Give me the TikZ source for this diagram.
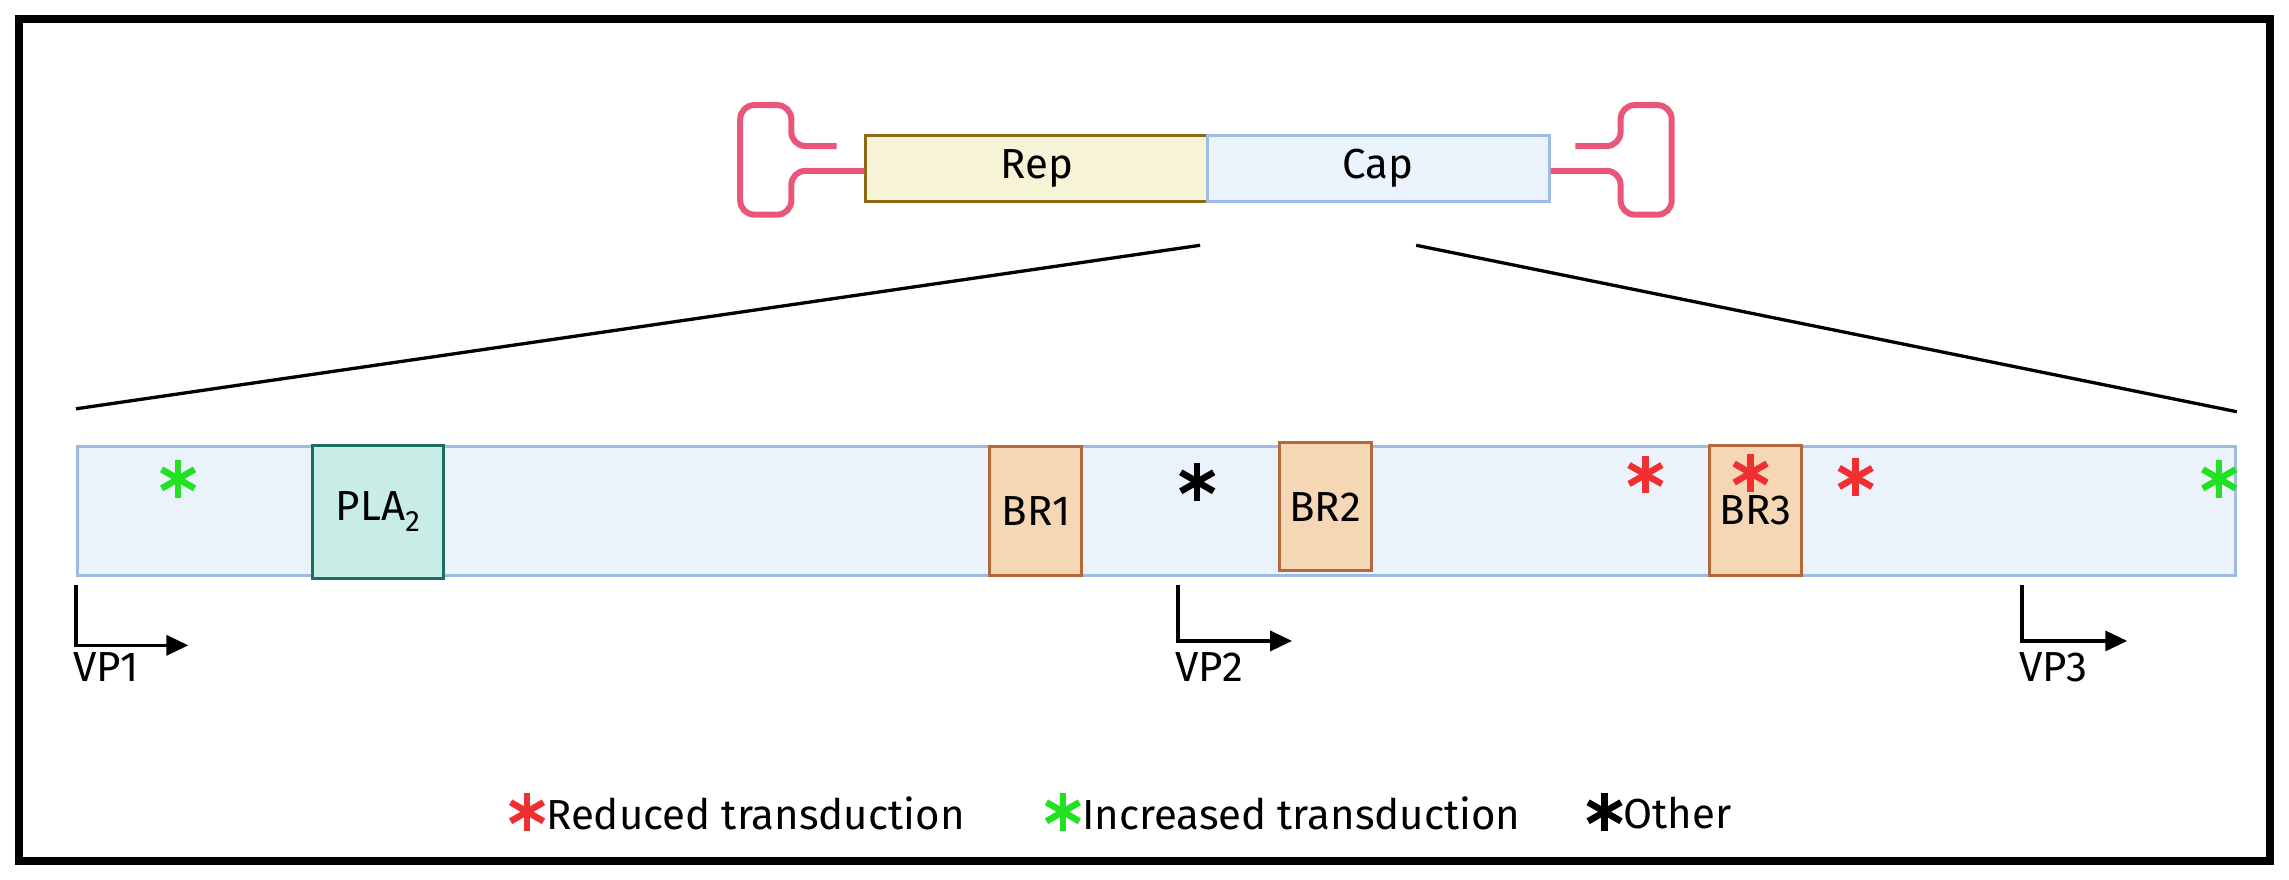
\documentclass[tikz,border=0pt]{standalone}
\usepackage{fontspec}
\setmainfont{Fira Sans}
\usetikzlibrary{arrows.meta}
\definecolor{itr}{HTML}{E8567A}
\definecolor{band}{HTML}{EAF2FB}
\definecolor{bandl}{HTML}{9DBBE3}
\definecolor{repf}{HTML}{F6F3D6}
\definecolor{repl}{HTML}{8C6A14}
\definecolor{plaf}{HTML}{C8EDE6}
\definecolor{plal}{HTML}{1E6E60}
\definecolor{brf}{HTML}{F6D7B5}
\definecolor{brl}{HTML}{B5693A}
\definecolor{gr}{HTML}{22E022}
\definecolor{rd}{HTML}{F03030}
\begin{document}
\begin{tikzpicture}[x=1.46pt,y=-1.46pt,
  txt/.style={font=\fontsize{42}{48}\selectfont},
  seg/.style={draw, line width=3pt, inner sep=0pt, anchor=north west, txt},
  br/.style={seg, fill=brf, draw=brl},
  itrs/.style={draw=itr, line width=6pt, rounded corners=14pt},
  star/.pic={\foreach \a in {90,30,-30}{\draw[line width=6.5pt,#1] (\a:13)--(\a+180:13);}},
  vp/.style={line width=3.5pt,-{Triangle[length=22pt,width=20pt]}},
  lbl/.style={txt, anchor=north west, inner sep=0pt}]
\useasboundingbox (0,0) rectangle (1567.8,602.7);
\draw[line width=8pt] (13,13) rectangle (1555,590);
% top construct
\node[seg, fill=repf, draw=repl, minimum width=234*1.46pt, minimum height=45*1.46pt] (rep) at (592,92) {Rep};
\node[seg, fill=band, draw=bandl, minimum width=234*1.46pt, minimum height=45*1.46pt] (cap) at (826,92) {Cap};
\draw[itrs] (573,100) -- (542,100) -- (542,72) -- (507,72) -- (507,147) -- (542,147) -- (542,117) -- (rep.west|-0,117);
\draw[itrs] (1079,100) -- (1110,100) -- (1110,72) -- (1145,72) -- (1145,147) -- (1110,147) -- (1110,117) -- (cap.east|-0,117);
% band
\node[seg, fill=band, draw=bandl, minimum width=1478*1.46pt, minimum height=88*1.46pt] (bd) at (52,305) {};
\coordinate (z1) at (822,168); \coordinate (z2) at (970,168);
\draw[line width=3.3pt] (z1) -- (bd.north west|-0,280);
\draw[line width=3.3pt] (z2) -- (bd.north east|-0,282);
\node[seg, fill=plaf, draw=plal, minimum width=90*1.46pt, minimum height=91*1.46pt] (pla) at (213,304) {PLA\textsubscript{2}};
\node[br, minimum width=63*1.46pt, minimum height=88*1.46pt] (br1) at (677,305) {BR1};
\node[br, minimum width=63*1.46pt, minimum height=88*1.46pt] (br2) at (875,302) {BR2};
\node[br, minimum width=63*1.46pt, minimum height=89*1.46pt] (br3) at (1170,304) {BR3};
% stars
\pic at (122,328) {star=gr};
\pic at (1520,328) {star=gr};
\pic at (820,330) {star=black};
\pic at (1127,325) {star=rd};
\pic at (1199,324) {star=rd};
\pic at (1271,327) {star=rd};
% VP arrows
\coordinate (a1) at (52,401); \coordinate (a2) at (807,401); \coordinate (a3) at (1385,401);
\draw[vp] (a1) -- ++(0,41) -- ++(77,0);
\draw[vp] (a2) -- ++(0,38) -- ++(78,0);
\draw[vp] (a3) -- ++(0,38) -- ++(72,0);
\node[lbl] (v1) at (50,447) {VP1};
\node[lbl] (v2) at (805,447) {VP2};
\node[lbl] (v3) at (1383,447) {VP3};
% legend
\pic at (361,556) {star=rd};
\node[lbl, anchor=west] (l1) at (374,557) {Reduced transduction};
\pic at (728,556) {star=gr};
\node[lbl, anchor=west] (l2) at (741,557) {Increased transduction};
\pic at (1099,556) {star=black};
\node[lbl, anchor=west] (l3) at (1112,557) {Other};
\end{tikzpicture}
\end{document}
